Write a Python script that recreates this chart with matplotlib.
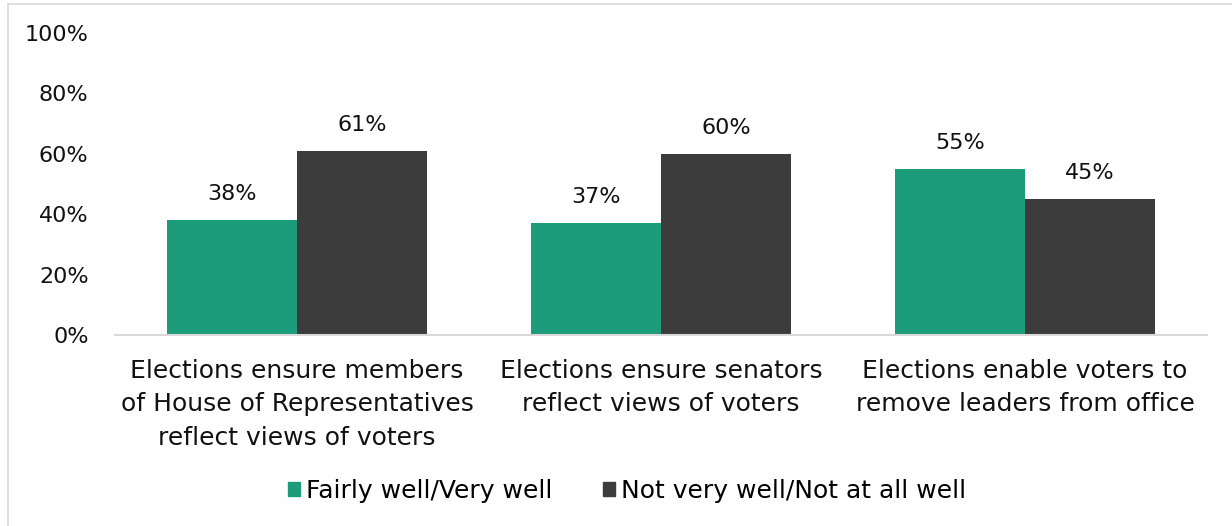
import matplotlib
matplotlib.use("Agg")
import matplotlib.pyplot as plt
from matplotlib.lines import Line2D
from matplotlib.patches import Patch
import numpy as np

categories = [
    "Elections ensure members\nof House of Representatives\nreflect views of voters",
    "Elections ensure senators\nreflect views of voters",
    "Elections enable voters to\nremove leaders from office",
]
series_names = ["Fairly well/Very well", "Not very well/Not at all well"]
fairly_well = [38, 37, 55]
not_well = [61, 60, 45]
y_ticks = [0, 20, 40, 60, 80, 100]
y_tick_labels = ["0%", "20%", "40%", "60%", "80%", "100%"]

GREEN = "#1C9C7B"
DARK = "#3C3C3C"
TEXT = "#111111"
plt.rcParams["font.family"] = ["DejaVu Sans"]

W, H = 1232, 526
fig = plt.figure(figsize=(W / 100, H / 100), dpi=100)
ax = fig.add_axes([115 / W, 1 - 335 / H, (1207 - 115) / W, (335 - 33) / H])

x = np.arange(len(categories))
bw = 0.357
b1 = ax.bar(x - bw / 2, fairly_well, bw, color=GREEN, label=series_names[0])
b2 = ax.bar(x + bw / 2, not_well, bw, color=DARK, label=series_names[1])

for bars, vals in ((b1, fairly_well), (b2, not_well)):
    for rect, v in zip(bars, vals):
        ax.annotate(f"{v}%", (rect.get_x() + rect.get_width() / 2, v),
                    xytext=(0, 26), textcoords="offset pixels",
                    ha="center", va="center", fontsize=16, color=TEXT)

ax.set_xlim(-0.5, 2.5)
ax.set_ylim(0, 100)
ax.set_yticks(y_ticks)
ax.set_yticklabels(y_tick_labels, fontsize=16, color=TEXT)
ax.set_xticks(x)
ax.set_xticklabels(categories, fontsize=18, color=TEXT, linespacing=1.52)
ax.tick_params(axis="both", length=0)
ax.tick_params(axis="y", pad=19)
ax.tick_params(axis="x", pad=17)
for s in ("top", "right", "left"):
    ax.spines[s].set_visible(False)
ax.spines["bottom"].set_color("#D9D9D9")
ax.spines["bottom"].set_linewidth(1.5)

handles = [Patch(color=GREEN), Patch(color=DARK)]
fig.legend(handles, series_names, loc="center", bbox_to_anchor=(627 / W, 1 - 491 / H),
           ncol=2, frameon=False, fontsize=18, handlelength=0.5, handleheight=0.5,
           handletextpad=0.25, columnspacing=2.0)

# Frame lines along the top and left edges of the chart area
fig.add_artist(Line2D([8 / W, 8 / W], [0, 1 - 4 / H], color="#D9D9D9", lw=1.2,
                      transform=fig.transFigure))
fig.add_artist(Line2D([8 / W, 1], [1 - 4 / H, 1 - 4 / H], color="#D9D9D9", lw=1.2,
                      transform=fig.transFigure))

fig.savefig("out.png", dpi=100, facecolor="white")
